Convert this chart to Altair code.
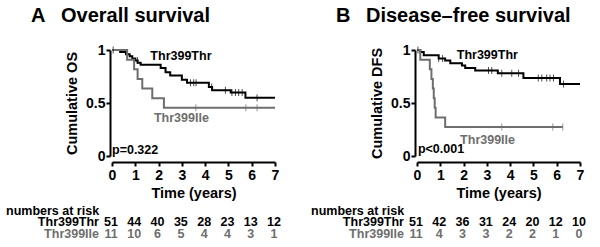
import altair as alt
import pandas as pd

FONT = "Liberation Sans"
BLACK = "#000000"
GRAY = "#6e6e6e"
GROUPS = ["Thr399Thr", "Thr399Ile"]

# ---------------- Panel A: overall survival ----------------
os_thr_t = [0, 0.35, 0.6, 0.76, 0.87, 1.0, 1.1, 1.23, 2.09, 2.3, 2.5, 3.0, 3.22, 4.16, 4.3, 5.1, 5.73, 7.0]
os_thr_s = [1, 0.98, 0.96, 0.94, 0.92, 0.90, 0.88, 0.86, 0.83, 0.79, 0.76, 0.72, 0.69, 0.65, 0.62, 0.60, 0.55, 0.55]
os_thr_cens = [0.05, 1.09, 3.37, 3.51, 3.61, 4.28, 4.87, 5.15, 5.3, 5.44, 5.59, 6.23]

os_ile_t = [0, 0.65, 0.95, 1.1, 1.3, 1.73, 2.23, 7.0]
os_ile_s = [1, 0.909, 0.818, 0.727, 0.636, 0.545, 0.455, 0.455]
os_ile_cens = [3.6, 5.75, 6.23]

# ---------------- Panel B: disease-free survival ----------------
dfs_thr_t = [0, 0.14, 0.29, 0.93, 1.21, 1.43, 1.93, 2.07, 2.5, 3.47, 4.57, 6.14, 7.0]
dfs_thr_s = [1, 0.98, 0.95, 0.92, 0.90, 0.875, 0.853, 0.83, 0.806, 0.78, 0.737, 0.68, 0.68]
dfs_thr_cens = [0.04, 0.93, 1.1, 3.07, 3.21, 3.64, 4.07, 4.36, 5.21, 5.36, 5.57, 5.71, 5.86, 6.29]

dfs_ile_t = [0, 0.14, 0.55, 0.62, 0.68, 0.72, 0.76, 0.8, 1.21, 6.26]
dfs_ile_s = [1, 0.909, 0.818, 0.727, 0.636, 0.545, 0.455, 0.364, 0.273, 0.273]
dfs_ile_cens = [3.64, 5.83, 6.26]

# ---------------- numbers at risk ----------------
risk_years = [0, 1, 2, 3, 4, 5, 6, 7]
os_thr_risk = [51, 44, 40, 35, 28, 23, 13, 12]
os_ile_risk = [11, 10, 6, 5, 4, 4, 3, 1]
dfs_thr_risk = [51, 42, 36, 31, 24, 20, 12, 10]
dfs_ile_risk = [11, 4, 3, 3, 2, 2, 1, 0]

x_ticks = [0, 1, 2, 3, 4, 5, 6, 7]
y_ticks = [0, 0.5, 1]


def level_at(times, surv, t):
    val = surv[0]
    for ti, si in zip(times, surv):
        if ti <= t:
            val = si
    return val


def panel(letter, title, ytitle, thr_t, thr_s, thr_c, ile_t, ile_s, ile_c,
          thr_risk, ile_risk, ptext, p_pos, thr_lab, ile_lab):
    xs = alt.Scale(domain=[0, 7], nice=False, zero=False)
    ys = alt.Scale(domain=[0, 1], nice=False)
    xaxis = alt.Axis(values=x_ticks, format="d", title="Time (years)", tickCount=8,
                     labelFont=FONT, titleFont=FONT, labelFontSize=14, titleFontSize=14.5,
                     labelFontWeight="bold", titleFontWeight="bold", labelColor=BLACK,
                     titleColor=BLACK, domainColor=BLACK, tickColor=BLACK, domainWidth=2,
                     tickWidth=2, tickSize=4, labelPadding=2, titlePadding=4, offset=6,
                     grid=False, labelFlush=False, labelOverlap=False)
    yaxis = alt.Axis(values=y_ticks, format="~g", title=ytitle,
                     labelFont=FONT, titleFont=FONT, labelFontSize=14, titleFontSize=14.5,
                     labelFontWeight="bold", titleFontWeight="bold", labelColor=BLACK,
                     titleColor=BLACK, domainColor=BLACK, tickColor=BLACK, domainWidth=2,
                     tickWidth=2, tickSize=4, labelPadding=1, titlePadding=6, offset=2,
                     grid=False, labelFlush=False, labelOverlap=False)

    def X():
        return alt.X("t:Q", scale=xs, axis=xaxis)

    def Y():
        return alt.Y("s:Q", scale=ys, axis=yaxis)

    thr_df = pd.DataFrame({"t": thr_t, "s": thr_s})
    ile_df = pd.DataFrame({"t": ile_t, "s": ile_s})
    thr_cdf = pd.DataFrame({"t": thr_c, "s": [level_at(thr_t, thr_s, c) for c in thr_c]})
    ile_cdf = pd.DataFrame({"t": ile_c, "s": [level_at(ile_t, ile_s, c) for c in ile_c]})

    line_thr = alt.Chart(thr_df).mark_line(interpolate="step-after", color=BLACK, strokeWidth=2).encode(
        x=X(), y=Y())
    line_ile = alt.Chart(ile_df).mark_line(interpolate="step-after", color=GRAY, strokeWidth=2).encode(
        x=X(), y=Y())
    cens_thr = alt.Chart(thr_cdf).mark_tick(orient="vertical", color=BLACK, size=7, thickness=1).encode(
        x=X(), y=Y())
    cens_ile = alt.Chart(ile_cdf).mark_tick(orient="vertical", color=GRAY, size=7, thickness=1).encode(
        x=X(), y=Y())

    lab_thr = alt.Chart(pd.DataFrame({"t": [thr_lab[0]], "s": [thr_lab[1]], "label": [GROUPS[0]]})).mark_text(
        font=FONT, fontSize=12.5, fontWeight="bold", align="center", baseline="alphabetic",
        color=BLACK).encode(x=X(), y=Y(), text="label:N")
    lab_ile = alt.Chart(pd.DataFrame({"t": [ile_lab[0]], "s": [ile_lab[1]], "label": [GROUPS[1]]})).mark_text(
        font=FONT, fontSize=12.5, fontWeight="bold", align="center", baseline="alphabetic",
        color=GRAY).encode(x=X(), y=Y(), text="label:N")

    ptxt = alt.Chart(pd.DataFrame({"t": [p_pos[0]], "s": [p_pos[1]], "label": [ptext]})).mark_text(
        font=FONT, fontSize=12.5, fontWeight="bold", align="left",
        baseline="alphabetic", color=BLACK).encode(x=X(), y=Y(), text="label:N")

    # panel titles
    tstyle = dict(font=FONT, fontSize=20, fontWeight="bold", align="left", baseline="alphabetic", color=BLACK)
    t_letter = alt.Chart(pd.DataFrame({"label": [letter]})).mark_text(**tstyle).encode(
        x=alt.value(-81), y=alt.value(-27.6), text="label:N")
    t_title = alt.Chart(pd.DataFrame({"label": [title]})).mark_text(**tstyle).encode(
        x=alt.value(-51), y=alt.value(-27.6), text="label:N")

    # numbers at risk
    rstyle = dict(font=FONT, fontSize=12.5, fontWeight="bold", baseline="alphabetic")
    head = alt.Chart(pd.DataFrame({"label": ["numbers at risk"]})).mark_text(
        align="left", color=BLACK, **rstyle).encode(x=alt.value(-106), y=alt.value(164.7), text="label:N")
    rowlab_thr = alt.Chart(pd.DataFrame({"label": [GROUPS[0]]})).mark_text(
        align="right", color=BLACK, **rstyle).encode(x=alt.value(-13), y=alt.value(175.9), text="label:N")
    rowlab_ile = alt.Chart(pd.DataFrame({"label": [GROUPS[1]]})).mark_text(
        align="right", color=GRAY, **rstyle).encode(x=alt.value(-13), y=alt.value(187.5), text="label:N")
    risk_thr = alt.Chart(pd.DataFrame({"t": risk_years, "n": thr_risk})).mark_text(
        align="center", color=BLACK, dx=-1, **rstyle).encode(x=X(), y=alt.value(175.9), text="n:Q")
    risk_ile = alt.Chart(pd.DataFrame({"t": risk_years, "n": ile_risk})).mark_text(
        align="center", color=GRAY, dx=-1, **rstyle).encode(x=X(), y=alt.value(187.5), text="n:Q")

    return alt.layer(line_thr, line_ile, cens_thr, cens_ile, lab_thr, lab_ile, ptxt, t_letter, t_title,
                     head, rowlab_thr, rowlab_ile, risk_thr, risk_ile).properties(width=163, height=106)


pA = panel("A", "Overall survival", "Cumulative OS",
           os_thr_t, os_thr_s, os_thr_cens, os_ile_t, os_ile_s, os_ile_cens,
           os_thr_risk, os_ile_risk, "p=0.322", (0.0, 0.019), (2.96, 0.906), (2.98, 0.317))
pB = panel("B", "Disease\u2013free survival", "Cumulative DFS",
           dfs_thr_t, dfs_thr_s, dfs_thr_cens, dfs_ile_t, dfs_ile_s, dfs_ile_cens,
           dfs_thr_risk, dfs_ile_risk, "p<0.001", (0.04, 0.025), (3.02, 0.916), (3.03, 0.112))

chart = alt.hconcat(pA, pB, spacing=142, bounds="flush").resolve_scale(
    x="independent", y="independent").properties(
    padding={"left": 6, "top": 6, "right": 5, "bottom": 5}, background="white"
).configure_view(stroke=None)

chart.save("out.html", embed_options={"renderer": "svg", "actions": False})
